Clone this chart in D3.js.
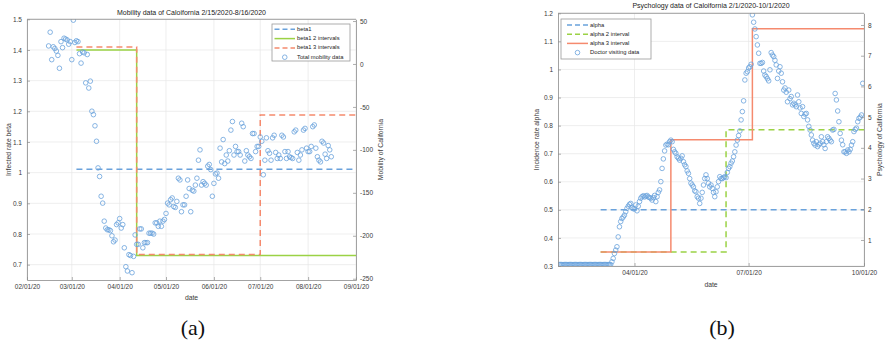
<!DOCTYPE html>
<html><head><meta charset="utf-8">
<script src="https://cdn.jsdelivr.net/npm/d3@7"></script>
<style>
body{margin:0;background:#fff;}
svg text{font-family:"Liberation Sans",Arial,sans-serif;}
</style>
</head><body>
<svg id="c" width="885" height="347"></svg>
<script>
// ---------------- DATA ----------------
// (a) Total mobility data, daily from 2/15/2020 to 8/16/2020 (right axis)
const mobilityStart = "2020-02-15";
const mobility = [
21,37,5,20,18,15,10,-5,26,19,
30,29,28,23,26,5,51,25,27,26,
12,1,14,13,-22,11,-28,-20,-55,-59,
-72,-90,-121,-131,-154,-162,-183,-191,-193,-193,
-194,-200,-207,-205,-187,-185,-180,-191,-187,-214,
-236,-241,-222,-223,-243,-224,-199,-210,-210,-192,
-192,-214,-208,-208,-208,-197,-197,-197,-198,-185,
-185,-189,-183,-189,-183,-181,-174,-162,-164,-158,
-156,-166,-167,-160,-133,-135,-172,-164,-164,-154,
-135,-145,-172,-147,-148,-141,-133,-112,-100,-141,
-137,-139,-141,-119,-117,-123,-154,-139,-128,-127,
-133,-98,-114,-88,-116,-106,-113,-101,-77,-67,
-106,-96,-102,-102,-106,-69,-73,-113,-101,-106,
-108,-110,-81,-81,-102,-96,-96,-85,-90,-129,
-112,-86,-101,-104,-112,-86,-83,-103,-110,-106,
-110,-83,-85,-102,-110,-102,-108,-109,-110,-79,
-77,-103,-112,-106,-100,-77,-75,-98,-102,-102,
-96,-73,-71,-98,-108,-112,-114,-90,-92,-105,
-110,-95,-100,-108];

// (a) step lines (left axis): [date, value]
const beta1 = [["2020-03-04",1.011],["2020-09-01",1.011]];
const beta1Two = [["2020-03-04",1.40],["2020-04-12",0.73],["2020-09-01",0.73]];
const beta1Three = [["2020-03-04",1.41],["2020-04-12",0.733],["2020-07-01",1.188],["2020-09-01",1.188]];

const betaTicks = [0.7,0.8,0.9,1,1.1,1.2,1.3,1.4,1.5];
const mobilityTicks = [-250,-200,-150,-100,-50,0,50];
const dateTicksA = ["2020-02-01","2020-03-01","2020-04-01","2020-05-01","2020-06-01","2020-07-01","2020-08-01","2020-09-01"];

// (b) Doctor visiting data, daily from 2/1/2020 (right axis)
const doctorStart = "2020-02-01";
const doctor = [
0.2,0.2,0.2,0.2,0.2,0.2,0.2,0.2,0.2,0.2,
0.2,0.2,0.2,0.2,0.2,0.2,0.2,0.2,0.2,0.2,
0.2,0.2,0.2,0.2,0.2,0.2,0.2,0.2,0.2,0.2,
0.2,0.2,0.2,0.2,0.2,0.2,0.2,0.2,0.2,0.2,
0.2,0.2,
0.29,0.40,0.56,0.67,0.78,1.1,1.43,1.6,1.7,1.75,
1.81,1.92,2.03,2.1,2.16,2.19,2.06,2.02,2.01,2.14,
1.95,2.1,2.25,2.36,2.41,2.44,2.40,2.43,2.45,2.40,
2.38,2.36,2.30,2.38,2.45,2.25,2.41,2.55,2.63,2.9,
3.33,3.64,3.9,4.09,4.12,4.1,4.2,4.25,4.2,3.95,
3.87,3.82,3.71,3.66,3.6,3.66,3.74,3.55,3.45,3.39,
3.25,3.17,3.0,2.85,2.79,2.73,2.6,2.57,2.41,2.36,
2.19,2.36,2.55,2.79,3.0,3.12,3.0,2.85,2.73,2.79,
2.68,2.55,2.41,2.57,2.73,2.9,3.06,3.0,3.0,3.03,
3.06,3.03,3.2,3.33,3.39,3.5,3.57,3.71,3.87,4.09,
4.25,4.4,4.55,4.91,5.18,5.53,6.21,6.43,6.48,6.6,
6.64,6.72,8.33,8.09,7.87,7.62,7.35,7.08,6.75,6.75,
6.78,6.5,6.37,6.32,6.25,6.18,6.54,7.1,7.02,6.97,
6.85,6.7,6.26,6.5,6.64,6.43,6.15,5.88,5.95,5.81,
5.5,5.88,5.6,5.67,5.4,5.45,5.4,5.34,5.72,5.5,
5.3,5.12,5.34,5.02,5.1,5.12,4.91,4.7,4.58,4.42,
4.25,4.15,4.09,4.2,4.04,4.1,4.15,4.36,4.2,4.1,
3.98,4.2,4.36,4.31,4.25,4.2,4.58,4.6,5.77,5.56,
5.2,4.85,4.47,4.25,4.1,3.87,3.87,3.82,3.93,3.87,
3.95,4.09,4.2,4.53,4.6,4.64,4.85,4.96,5.0,5.07,
6.1];

const alpha = [["2020-03-05",0.5],["2020-10-01",0.5]];
const alphaTwo = [["2020-03-05",0.35],["2020-06-13",0.785],["2020-10-01",0.785]];
const alphaThree = [["2020-03-05",0.35],["2020-04-30",0.75],["2020-07-04",1.145],["2020-10-01",1.145]];

const alphaTicks = [0.3,0.4,0.5,0.6,0.7,0.8,0.9,1,1.1,1.2];
const psychTicks = [1,2,3,4,5,6,7,8];
const dateTicksB = ["2020-04-01","2020-07-01","2020-10-01"];

// ---------------- STYLE ----------------
const BLUE = "#6aa2dc", GREEN = "#9bd245", ORANGE = "#f58a6e";
const AXIS = "#8c8c8c", GRID = "#e6e6e6", TXT = "#3a3a3a";

const parse = d3.timeParse("%Y-%m-%d");
const svg = d3.select("#c");

function seriesFrom(start, values){
  const s = parse(start);
  return values.map((v,i)=>({date:d3.timeDay.offset(s,i), value:v}));
}

function drawChart(cfg){
  const g = svg.append("g");
  const {x, yL, yR, L, R, T, B} = cfg;
  const id = "clip"+cfg.name;
  svg.append("clipPath").attr("id",id).append("rect")
    .attr("x",L).attr("y",T).attr("width",R-L).attr("height",B-T);

  // grid
  g.append("g").selectAll("line").data(cfg.yTicks).join("line")
    .attr("x1",L).attr("x2",R).attr("y1",d=>yL(d)).attr("y2",d=>yL(d))
    .attr("stroke",GRID).attr("stroke-width",0.7);
  g.append("g").selectAll("line").data(cfg.xTicks.map(parse)).join("line")
    .attr("x1",d=>x(d)).attr("x2",d=>x(d)).attr("y1",T).attr("y2",B)
    .attr("stroke",GRID).attr("stroke-width",0.7);

  // lines
  const line = d3.line().x(d=>x(parse(d[0]))).y(d=>yL(d[1])).curve(d3.curveStepAfter);
  const lg = g.append("g").attr("clip-path",`url(#${id})`);
  cfg.lines.forEach(l=>{
    lg.append("path").attr("d",line(l.data)).attr("fill","none")
      .attr("stroke",l.color).attr("stroke-width",1.5)
      .attr("stroke-dasharray",l.dash||null);
  });

  // scatter
  g.append("g").attr("clip-path",`url(#${id})`).selectAll("circle").data(cfg.points).join("circle")
    .attr("cx",d=>x(d.date)).attr("cy",d=>yR(d.value)).attr("r",2.3)
    .attr("fill","none").attr("stroke",BLUE).attr("stroke-width",0.8);

  // axes
  const style = sel=>{
    sel.select(".domain").attr("stroke",AXIS).attr("stroke-width",0.8);
    sel.selectAll(".tick line").attr("stroke",AXIS).attr("stroke-width",0.7);
    sel.selectAll(".tick text").attr("fill",TXT).style("font-size","6.5px")
      .style("font-family",'"Liberation Sans",Arial,sans-serif');
  };
  g.append("g").attr("transform",`translate(${L},0)`)
    .call(d3.axisLeft(yL).tickValues(cfg.yTicks).tickFormat(d=>String(d)).tickSizeInner(-3).tickSizeOuter(0).tickPadding(5))
    .call(style);
  g.append("g").attr("transform",`translate(${R},0)`)
    .call(d3.axisRight(yR).tickValues(cfg.y2Ticks).tickFormat(d=>String(d)).tickSizeInner(-3).tickSizeOuter(0).tickPadding(4))
    .call(style);
  g.append("g").attr("transform",`translate(0,${B})`)
    .call(d3.axisBottom(x).tickValues(cfg.xTicks.map(parse)).tickFormat(d3.timeFormat("%m/%d/%y")).tickSizeInner(-3).tickSizeOuter(0).tickPadding(4))
    .call(style);
  g.append("line").attr("x1",L).attr("x2",R).attr("y1",T).attr("y2",T)
    .attr("stroke",AXIS).attr("stroke-width",0.8);

  // texts
  g.append("text").attr("x",(L+R)/2).attr("y",cfg.titleY).attr("text-anchor","middle")
    .attr("dominant-baseline","middle").style("font-size","7px").attr("fill","#222").text(cfg.title);
  g.append("text").attr("x",(L+R)/2).attr("y",cfg.xLabelY).attr("text-anchor","middle")
    .attr("dominant-baseline","middle").style("font-size","6.8px").attr("fill",TXT).text("date");
  const mid=(T+B)/2;
  g.append("text").attr("transform",`translate(${cfg.yLabelX},${mid}) rotate(-90)`).attr("text-anchor","middle")
    .attr("dominant-baseline","middle").style("font-size","6.8px").attr("fill",TXT).text(cfg.yLabel);
  g.append("text").attr("transform",`translate(${cfg.y2LabelX},${mid}) rotate(-90)`).attr("text-anchor","middle")
    .attr("dominant-baseline","middle").style("font-size","6.8px").attr("fill",TXT).text(cfg.y2Label);

  // legend
  const lgd = cfg.legend;
  const leg = g.append("g");
  leg.append("rect").attr("x",lgd.x).attr("y",lgd.y).attr("width",lgd.w).attr("height",lgd.h)
    .attr("fill","#fff").attr("stroke","#9a9a9a").attr("stroke-width",0.8);
  lgd.items.forEach((it,i)=>{
    const yy = lgd.y + lgd.first + i*lgd.step;
    if(it.marker){
      leg.append("circle").attr("cx",(lgd.sx1+lgd.sx2)/2).attr("cy",yy).attr("r",2.3)
        .attr("fill","none").attr("stroke",BLUE).attr("stroke-width",0.8);
    } else {
      leg.append("line").attr("x1",lgd.sx1).attr("x2",lgd.sx2).attr("y1",yy).attr("y2",yy)
        .attr("stroke",it.color).attr("stroke-width",1.5).attr("stroke-dasharray",it.dash||null);
    }
    leg.append("text").attr("x",lgd.sx2+2).attr("y",yy).attr("dominant-baseline","middle")
      .style("font-size","5.8px").attr("fill","#222").text(it.label);
  });
}

// ---------------- CHART (a) ----------------
const xA = d3.scaleTime().domain([parse("2020-02-01"),parse("2020-09-01")]).range([27,356]);
const yA = d3.scaleLinear().domain([0.65,1.5]).range([280,19.3]);
const yA2 = d3.scaleLinear().domain([-251.5,52]).range([280,19.3]);
drawChart({
  name:"A", x:xA, yL:yA, yR:yA2, L:27, R:356, T:19.3, B:280,
  yTicks:betaTicks, y2Ticks:mobilityTicks, xTicks:dateTicksA,
  lines:[
    {data:beta1, color:BLUE, dash:"6,4"},
    {data:beta1Two, color:GREEN},
    {data:beta1Three, color:ORANGE, dash:"6,4"}
  ],
  points:seriesFrom(mobilityStart,mobility),
  title:"Mobility data of Caloifornia 2/15/2020-8/16/2020", titleY:13.3,
  xLabelY:298, yLabel:"Infected rate beta", yLabelX:9, y2Label:"Mobility of California", y2LabelX:381,
  legend:{x:272,y:24,w:78,h:37,first:5.3,step:9.3,sx1:274.5,sx2:295,
    items:[{label:"beta1",color:BLUE,dash:"5,3"},{label:"beta1 2 intervals",color:GREEN},
           {label:"beta1 3 intervals",color:ORANGE,dash:"5,3"},{label:"Total mobility data",marker:true}]}
});

// ---------------- CHART (b) ----------------
const xB = d3.scaleTime().domain([parse("2020-01-31"),parse("2020-10-01")]).range([558,864]);
const yB = d3.scaleLinear().domain([0.3,1.2]).range([266,13.3]);
const yB2 = d3.scaleLinear().domain([0.153,8.38]).range([266,13.3]);
drawChart({
  name:"B", x:xB, yL:yB, yR:yB2, L:558, R:864, T:13.3, B:266,
  yTicks:alphaTicks, y2Ticks:psychTicks, xTicks:dateTicksB,
  lines:[
    {data:alpha, color:BLUE, dash:"6,4"},
    {data:alphaTwo, color:GREEN, dash:"6,4"},
    {data:alphaThree, color:ORANGE}
  ],
  points:seriesFrom(doctorStart,doctor),
  title:"Psychology data of Caloifornia 2/1/2020-10/1/2020", titleY:6,
  xLabelY:285, yLabel:"Incidence rate alpha", yLabelX:537, y2Label:"Psychology of California", y2LabelX:880,
  legend:{x:561,y:19,w:90,h:40,first:6,step:9.2,sx1:567,sx2:588,
    items:[{label:"alpha",color:BLUE,dash:"5,3"},{label:"alpha 2 interval",color:GREEN,dash:"5,3"},
           {label:"alpha 3 interval",color:ORANGE},{label:"Doctor visiting data",marker:true}]}
});

// sub captions
svg.append("text").attr("x",193).attr("y",335).attr("text-anchor","middle")
  .style("font-family",'"Liberation Serif","DejaVu Serif",serif').style("font-size","22px").attr("fill","#111").text("(a)");
svg.append("text").attr("x",722).attr("y",335).attr("text-anchor","middle")
  .style("font-family",'"Liberation Serif","DejaVu Serif",serif').style("font-size","22px").attr("fill","#111").text("(b)");
</script>
</body></html>
